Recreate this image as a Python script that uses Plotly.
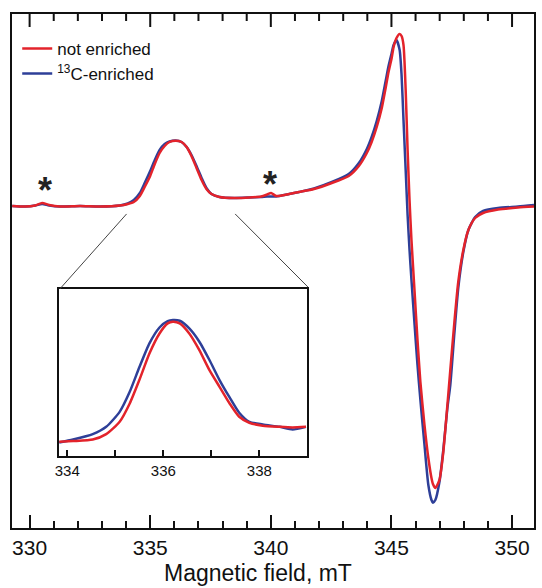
import plotly.graph_objects as go

# ---- main spectrum (magnetic field in mT, derivative intensity in a.u.) ----
field = [329.28, 329.82, 330.23, 330.52, 330.81, 331.26, 332.09, 332.92, 333.74, 334.07,
         334.32, 334.57, 334.77, 334.98, 335.19, 335.39, 335.60, 335.80, 336.05, 336.30,
         336.51, 336.71, 336.92, 337.13, 337.33, 337.54, 337.87, 338.49, 339.11, 339.60,
         339.85, 340.01, 340.22, 340.76, 341.17, 341.79,
         342.53, 343.23, 343.65, 343.98, 344.18, 344.39, 344.60, 344.76, 344.88, 345.01,
         345.09, 345.21, 345.34, 345.42, 345.50, 345.59, 345.67, 345.75, 345.83, 345.96,
         346.08, 346.20, 346.37, 346.53, 346.66, 346.72, 346.82, 346.99, 347.15, 347.32,
         347.44, 347.61, 347.77, 347.98, 348.19, 348.47, 348.80, 349.42, 350.25, 350.91]

not_enriched = [0, -0.005, 0.005, 0.03, 0.01, -0.005, 0, -0.005, 0.005, 0.02,
                0.04, 0.10, 0.19, 0.29, 0.42, 0.53, 0.60, 0.64, 0.653, 0.64,
                0.59, 0.50, 0.38, 0.26, 0.17, 0.12, 0.09, 0.08, 0.085, 0.095,
                0.115, 0.13, 0.10, 0.12, 0.14, 0.17,
                0.23, 0.30, 0.40, 0.53, 0.64, 0.79, 0.98, 1.18, 1.34, 1.48,
                1.59, 1.68, 1.72, 1.70, 1.61, 1.16, 0.56, 0.06, -0.34, -0.86,
                -1.34, -1.76, -2.19, -2.52, -2.72, -2.78, -2.82, -2.74, -2.46, -1.99,
                -1.64, -1.16, -0.76, -0.44, -0.24, -0.12, -0.07, -0.035, -0.015, -0.005]

c13_enriched = [0, -0.005, 0.005, 0.02, 0.005, -0.005, 0, -0.005, 0.005, 0.025,
                0.06, 0.13, 0.23, 0.34, 0.46, 0.56, 0.62, 0.645, 0.655, 0.64,
                0.59, 0.51, 0.40, 0.28, 0.18, 0.12, 0.09, 0.08, 0.085, 0.09,
                0.095, 0.095, 0.095, 0.12, 0.14, 0.175,
                0.24, 0.32, 0.43, 0.57, 0.69, 0.85, 1.05, 1.25, 1.40, 1.53,
                1.61, 1.66, 1.56, 1.31, 0.86, 0.36, -0.09, -0.44, -0.74, -1.19,
                -1.59, -1.94, -2.39, -2.79, -2.94, -2.967, -2.94, -2.76, -2.44, -2.02,
                -1.79, -1.27, -0.82, -0.46, -0.24, -0.11, -0.05, -0.02, -0.005, 0.01]

# ---- inset (zoom on the 336 mT line) ----
inset_field = [333.83, 334.12, 334.53, 334.81, 335.09, 335.30, 335.50, 335.71, 335.92, 336.09,
               336.20, 336.34, 336.54, 336.75, 336.96, 337.17, 337.38, 337.58, 337.79, 338.07,
               338.42, 338.69, 338.97]
inset_not_enriched = [0.010, 0.014, 0.022, 0.051, 0.117, 0.215, 0.340, 0.482, 0.589, 0.643,
                      0.652, 0.643, 0.589, 0.500, 0.393, 0.304, 0.215, 0.144, 0.112, 0.096,
                      0.090, 0.087, 0.090]
inset_c13_enriched = [0.006, 0.022, 0.051, 0.090, 0.170, 0.277, 0.408, 0.536, 0.621, 0.655,
                      0.661, 0.657, 0.616, 0.545, 0.447, 0.340, 0.247, 0.165, 0.117, 0.103,
                      0.090, 0.076, 0.090]

major_step = 5      # mT between labelled ticks
minor_step = 1      # mT between small ticks
top_tick_values = list(range(330, 351))
inset_ticks = [334, 335, 336, 337, 338]
inset_ticktext = ["334", " ", "336", " ", "338"]
impurity_marks = [(330.65, 0.16), (339.97, 0.22)]

RED = "#e3232b"
BLUE = "#2e3f98"
FONT = "Liberation Sans, Arial, sans-serif"
INK = "#111"
XRANGE = [329.27, 350.91]
PLOT_H = 588 - 14 - 60   # plot-area height in px, for tick lengths on the top frame

fig = go.Figure()
fig.add_trace(go.Scatter(x=field, y=c13_enriched, mode="lines", name="<sup>13</sup>C-enriched",
                         line=dict(color=BLUE, width=2.5, shape="spline", smoothing=0.6),
                         legendrank=2))
fig.add_trace(go.Scatter(x=field, y=not_enriched, mode="lines", name="not enriched",
                         line=dict(color=RED, width=2.5, shape="spline", smoothing=0.6),
                         legendrank=1))
fig.add_trace(go.Scatter(x=inset_field, y=inset_c13_enriched, mode="lines", showlegend=False,
                         line=dict(color=BLUE, width=2.5, shape="spline", smoothing=0.6),
                         xaxis="x2", yaxis="y2"))
fig.add_trace(go.Scatter(x=inset_field, y=inset_not_enriched, mode="lines", showlegend=False,
                         line=dict(color=RED, width=2.5, shape="spline", smoothing=0.6),
                         xaxis="x2", yaxis="y2"))

for xv, yv in impurity_marks:
    fig.add_annotation(x=xv, y=yv, xref="x", yref="y", text="<b>*</b>", showarrow=False,
                       font=dict(size=36, color="#222", family=FONT))

# tick marks on the top frame (mirroring the bottom axis ticks)
for v in top_tick_values:
    length = 13 if v % major_step == 0 else 7
    fig.add_shape(type="line", xref="x", yref="paper", x0=v, x1=v, y0=1, y1=1 - length / PLOT_H,
                  line=dict(color=INK, width=2), layer="above")

# zoom guide lines
fig.add_shape(type="line", xref="paper", yref="paper", x0=0.2195, y0=0.611, x1=0.0916, y1=0.465,
              line=dict(color="#444", width=1))
fig.add_shape(type="line", xref="paper", yref="paper", x0=0.4275, y0=0.611, x1=0.5668, y1=0.469,
              line=dict(color="#444", width=1))

fig.add_annotation(x=0.4704, y=-0.088, xref="paper", yref="paper", text="Magnetic field, mT",
                   showarrow=False, yanchor="middle",
                   font=dict(size=23, color=INK, family=FONT))

fig.update_layout(
    width=542, height=588,
    margin=dict(l=12, r=6, t=14, b=60),
    paper_bgcolor="white", plot_bgcolor="rgba(0,0,0,0)",
    font=dict(family=FONT, color=INK),
    showlegend=True,
    legend=dict(x=0.01, y=0.967, xanchor="left", yanchor="top",
                bgcolor="rgba(0,0,0,0)", borderwidth=0,
                font=dict(size=17, family=FONT, color=INK),
                itemwidth=30, tracegroupgap=0),
    xaxis=dict(range=XRANGE, tickmode="linear", tick0=330, dtick=major_step,
               ticks="inside", ticklen=13, tickwidth=2, tickcolor=INK,
               minor=dict(dtick=minor_step, tick0=330, ticks="inside", ticklen=7, tickwidth=2,
                          tickcolor=INK),
               showline=True, linewidth=2, linecolor=INK, mirror=True,
               showgrid=False, zeroline=False,
               tickfont=dict(size=21, family=FONT, color=INK)),
    yaxis=dict(range=[-3.22, 1.92], showticklabels=False, ticks="",
               showline=True, linewidth=2, linecolor=INK, mirror=True,
               showgrid=False, zeroline=False),
    xaxis2=dict(domain=[0.0903, 0.565], anchor="y2", range=[333.83, 338.99],
                tickvals=inset_ticks, ticktext=inset_ticktext, ticks="inside", ticklen=6,
                tickwidth=2, tickcolor=INK,
                showline=True, linewidth=2, linecolor=INK, mirror=True,
                showgrid=False, zeroline=False,
                tickfont=dict(size=15, family=FONT, color=INK)),
    yaxis2=dict(domain=[0.140, 0.4644], anchor="x2", range=[-0.066, 0.825],
                showticklabels=False, ticks="",
                showline=True, linewidth=2, linecolor=INK, mirror=True,
                showgrid=False, zeroline=False),
)

fig.write_html("out.html")
